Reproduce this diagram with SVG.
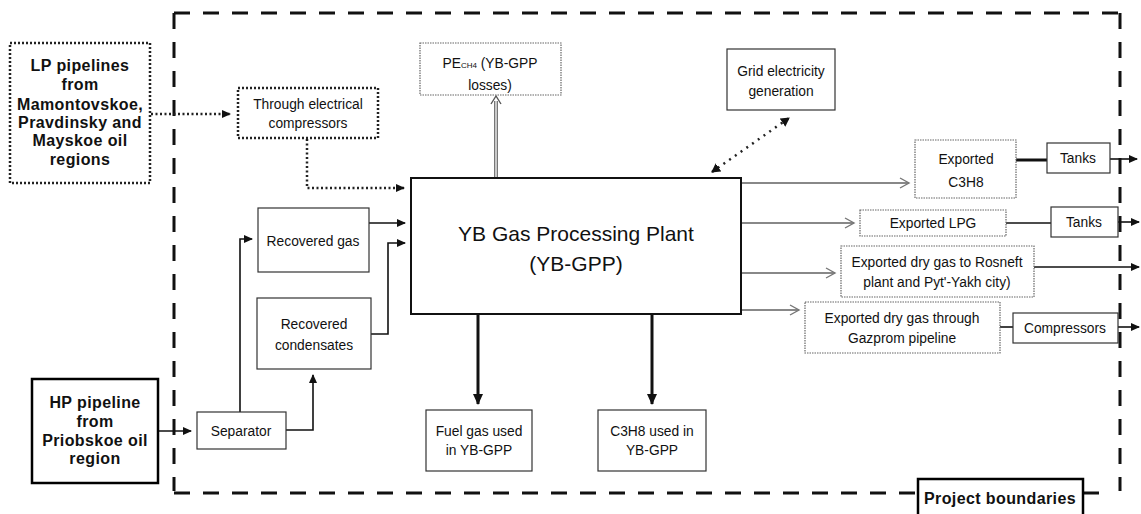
<svg xmlns="http://www.w3.org/2000/svg" width="1141" height="514" viewBox="0 0 1141 514">
<style>
text{font-family:"Liberation Sans",Arial,sans-serif;fill:#111;text-anchor:middle}
.s{font-size:13.8px}
.b{font-size:16px;font-weight:bold;letter-spacing:0.4px}
.big{font-size:21px}
.thin{fill:#fff;stroke:#333;stroke-width:1.2}
.dotb{fill:#fff;stroke:#666;stroke-width:1.2;stroke-dasharray:1.5 1}
.heavy{fill:#fff;stroke:#000;stroke-width:2.5}
.dot{fill:#fff;stroke:#222;stroke-width:2.5;stroke-dasharray:2 2}
.c{fill:none;stroke:#111;stroke-width:1.6}
.g{fill:none;stroke:#888;stroke-width:1.8}
.k{fill:none;stroke:#111;stroke-width:3}
.dl{fill:none;stroke:#222;stroke-width:2.5;stroke-dasharray:2 2.5}
</style>
<defs>
<marker id="a" markerWidth="10" markerHeight="10" refX="8" refY="5" orient="auto" markerUnits="userSpaceOnUse"><path d="M0,1 L9,5 L0,9 Z" fill="#111"/></marker>
<marker id="ab" markerWidth="12" markerHeight="12" refX="10" refY="6" orient="auto" markerUnits="userSpaceOnUse"><path d="M0,1 L11,6 L0,11 Z" fill="#111"/></marker>
<marker id="o" markerWidth="12" markerHeight="12" refX="10" refY="6" orient="auto" markerUnits="userSpaceOnUse"><path d="M1,1 L10,6 L1,11" fill="none" stroke="#777" stroke-width="1.4"/></marker>
<marker id="ar" markerWidth="10" markerHeight="10" refX="8" refY="5" orient="auto-start-reverse" markerUnits="userSpaceOnUse"><path d="M0,0 L9,5 L0,10 Z" fill="#111"/></marker>
</defs>

<g id="boundary">
<path d="M174,13 H1120 M174,13 V491 M174,493 H918 M1083,493 H1110 M1120,13 V491" fill="none" stroke="#111" stroke-width="3" stroke-dasharray="16 13"/>
</g>

<g id="connectors">
<path class="dl" d="M151,114 H230" marker-end="url(#a)"/>
<path class="dl" d="M307,139 V188 H404" marker-end="url(#a)"/>
<path class="c" d="M158,431 H191" marker-end="url(#a)"/>
<path class="c" d="M240,412 V239 H252" marker-end="url(#a)"/>
<path class="c" d="M286,430 H313 V375" marker-end="url(#a)"/>
<path class="c" d="M369,223 H405" marker-end="url(#a)"/>
<path class="c" d="M371,334 H388 V243 H405" marker-end="url(#a)"/>
<path d="M496,178 V101" fill="none" stroke="#777" stroke-width="4"/>
<path d="M496,178 V101" fill="none" stroke="#fff" stroke-width="1.2"/>
<path d="M491,104 L496,96 L501,104" fill="none" stroke="#555" stroke-width="1.4"/>
<path d="M712,172 L789,118" fill="none" stroke="#222" stroke-width="2.5" stroke-dasharray="2 5" marker-start="url(#ar)" marker-end="url(#ar)"/>
<path class="g" d="M741,183 H909" marker-end="url(#o)"/>
<path class="g" d="M741,223 H854" marker-end="url(#o)"/>
<path class="g" d="M741,273 H835" marker-end="url(#o)"/>
<path class="g" d="M741,310 H799" marker-end="url(#o)"/>
<path class="k" d="M478,314 V404" marker-end="url(#ab)"/>
<path class="k" d="M652,314 V404" marker-end="url(#ab)"/>
<path class="k" d="M1016,160 H1047"/>
<path class="c" d="M1110,159 H1137" marker-end="url(#a)"/>
<path class="c" d="M1006,223 H1051"/>
<path class="c" d="M1118,222 H1139" marker-end="url(#a)"/>
<path class="c" d="M1034,267 H1139" marker-end="url(#a)"/>
<path class="c" d="M1000,327 H1013"/>
<path class="c" d="M1118,327 H1139" marker-end="url(#a)"/>
</g>

<g id="lp"><rect class="dot" x="10" y="43" width="140" height="140"/>
<text class="b" x="80" y="71">LP pipelines</text><text class="b" x="80" y="90">from</text><text class="b" x="80" y="110">Mamontovskoe,</text><text class="b" x="80" y="128">Pravdinsky and</text><text class="b" x="80" y="146">Mayskoe oil</text><text class="b" x="80" y="165">regions</text></g>

<g id="elcomp"><rect class="dot" x="238" y="88" width="140" height="50"/>
<text class="s" x="308" y="109">Through electrical</text><text class="s" x="308" y="128">compressors</text></g>

<g id="hp"><rect class="heavy" x="32" y="379" width="126" height="104"/>
<text class="b" x="95" y="408">HP pipeline</text><text class="b" x="95" y="427">from</text><text class="b" x="95" y="446">Priobskoe oil</text><text class="b" x="95" y="464">region</text></g>

<g id="separator"><rect class="thin" x="197" y="412" width="89" height="37"/>
<text class="s" x="241" y="436">Separator</text></g>

<g id="recgas"><rect class="thin" x="258" y="208" width="111" height="64"/>
<text class="s" x="313" y="246">Recovered gas</text></g>

<g id="reccond"><rect class="thin" x="257" y="298" width="114" height="71"/>
<text class="s" x="314" y="329">Recovered</text><text class="s" x="314" y="350">condensates</text></g>

<g id="gpp"><rect fill="#fff" stroke="#111" stroke-width="2" x="411" y="178" width="330" height="136"/>
<text class="big" x="576" y="241">YB Gas Processing Plant</text><text class="big" x="576" y="271">(YB-GPP)</text></g>

<g id="pe"><rect class="dotb" x="420" y="43" width="141" height="52"/>
<text class="s" x="490" y="68">PE<tspan font-size="8">CH4</tspan> (YB-GPP</text><text class="s" x="490" y="90">losses)</text></g>

<g id="grid"><rect class="thin" x="727" y="49" width="108" height="61"/>
<text class="s" x="781" y="76">Grid electricity</text><text class="s" x="781" y="96">generation</text></g>

<g id="expc3h8"><rect class="dotb" x="915" y="140" width="101" height="58"/>
<text class="s" x="966" y="164">Exported</text><text class="s" x="966" y="187">C3H8</text></g>

<g id="tanks1"><rect class="thin" x="1047" y="143" width="63" height="30"/>
<text class="s" x="1078" y="163">Tanks</text></g>

<g id="explpg"><rect class="dotb" x="860" y="210" width="146" height="26"/>
<text class="s" x="933" y="228">Exported LPG</text></g>

<g id="tanks2"><rect class="thin" x="1051" y="207" width="67" height="30"/>
<text class="s" x="1084" y="227">Tanks</text></g>

<g id="rosneft"><rect class="dotb" x="841" y="246" width="193" height="51"/>
<text class="s" x="937" y="267">Exported dry gas to Rosneft</text><text class="s" x="937" y="287">plant and Pyt'-Yakh city)</text></g>

<g id="gazprom"><rect class="dotb" x="805" y="302" width="195" height="51"/>
<text class="s" x="902" y="323">Exported dry gas through</text><text class="s" x="902" y="343">Gazprom pipeline</text></g>

<g id="compressors"><rect class="thin" x="1013" y="313" width="105" height="30"/>
<text class="s" x="1065" y="333">Compressors</text></g>

<g id="fuelgas"><rect class="thin" x="426" y="410" width="106" height="61"/>
<text class="s" x="479" y="436">Fuel gas used</text><text class="s" x="479" y="455">in YB-GPP</text></g>

<g id="c3h8used"><rect class="thin" x="598" y="410" width="108" height="61"/>
<text class="s" x="652" y="436">C3H8 used in</text><text class="s" x="652" y="455">YB-GPP</text></g>

<g id="projbound"><rect class="heavy" x="918" y="479" width="165" height="40"/>
<text class="b" x="1000" y="504">Project boundaries</text></g>
</svg>
